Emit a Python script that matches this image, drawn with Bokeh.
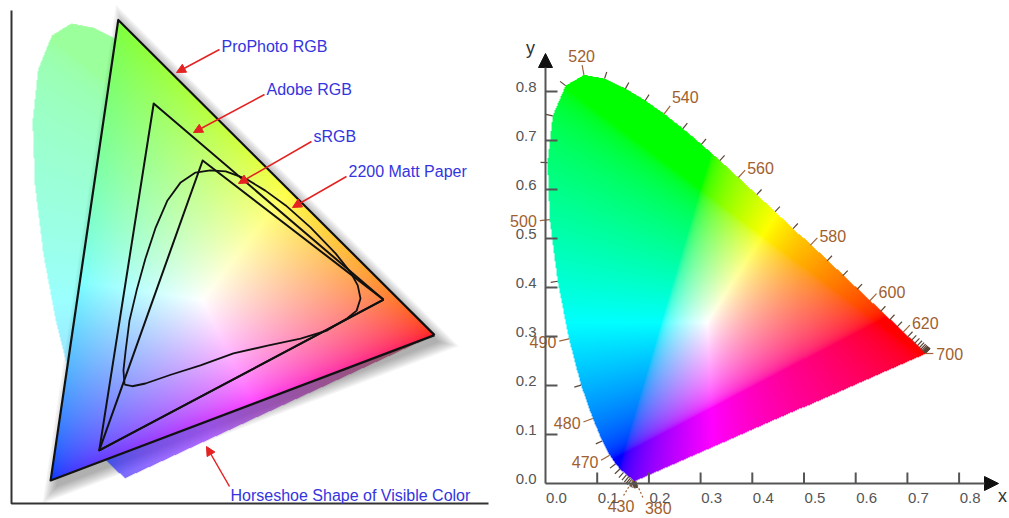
import numpy as np
from bokeh.plotting import figure
from bokeh.layouts import row
from bokeh.models import Arrow, NormalHead
from bokeh.core.properties import value
from bokeh.embed import file_html
from bokeh.resources import INLINE

# ---------------------------------------------------------------- data ---
# CIE 1931 2-degree spectral locus, 5 nm steps (380 ... 700 nm)
wavelengths = list(range(380, 705, 5))
locus_x = [0.1741, 0.1740, 0.1738, 0.1736, 0.1733, 0.1730, 0.1726, 0.1721,
           0.1714, 0.1703, 0.1689, 0.1669, 0.1644, 0.1611, 0.1566, 0.1510,
           0.1440, 0.1355, 0.1241, 0.1096, 0.0913, 0.0687, 0.0454, 0.0235,
           0.0082, 0.0039, 0.0139, 0.0389, 0.0743, 0.1142, 0.1547, 0.1929,
           0.2296, 0.2658, 0.3016, 0.3373, 0.3731, 0.4087, 0.4441, 0.4788,
           0.5125, 0.5448, 0.5752, 0.6029, 0.6270, 0.6482, 0.6658, 0.6801,
           0.6915, 0.7006, 0.7079, 0.7140, 0.7190, 0.7230, 0.7260, 0.7283,
           0.7300, 0.7311, 0.7320, 0.7327, 0.7334, 0.7340, 0.7344, 0.7346,
           0.7347]
locus_y = [0.0050, 0.0050, 0.0049, 0.0049, 0.0048, 0.0048, 0.0048, 0.0048,
           0.0051, 0.0058, 0.0069, 0.0086, 0.0109, 0.0138, 0.0177, 0.0227,
           0.0297, 0.0399, 0.0578, 0.0868, 0.1327, 0.2007, 0.2950, 0.4127,
           0.5384, 0.6548, 0.7502, 0.8120, 0.8338, 0.8262, 0.8059, 0.7816,
           0.7543, 0.7243, 0.6923, 0.6589, 0.6245, 0.5896, 0.5547, 0.5202,
           0.4866, 0.4544, 0.4242, 0.3965, 0.3725, 0.3514, 0.3340, 0.3197,
           0.3083, 0.2993, 0.2920, 0.2859, 0.2809, 0.2770, 0.2740, 0.2717,
           0.2700, 0.2689, 0.2680, 0.2673, 0.2666, 0.2660, 0.2656, 0.2654,
           0.2653]
labelled_nm = [380, 430, 470, 480, 490, 500, 520, 540, 560, 580, 600, 620, 700]

axis_values = [0.0, 0.1, 0.2, 0.3, 0.4, 0.5, 0.6, 0.7, 0.8]
axis_labels = ["0.0", "0.1", "0.2", "0.3", "0.4", "0.5", "0.6", "0.7", "0.8"]

# gamut outlines (red, green, blue primaries)
prophoto_x = [0.7347, 0.1596, 0.0366]
prophoto_y = [0.2653, 0.8404, 0.0001]
adobe_x = [0.642, 0.224, 0.125]
adobe_y = [0.330, 0.688, 0.055]
srgb_x = [0.642, 0.313, 0.125]
srgb_y = [0.330, 0.584, 0.055]
matt_x = [0.171, 0.169, 0.173, 0.180, 0.193, 0.209, 0.227, 0.249, 0.273,
          0.300, 0.327, 0.355, 0.391, 0.427, 0.464, 0.509, 0.555, 0.582,
          0.595, 0.600, 0.593, 0.576, 0.540, 0.491, 0.431, 0.369, 0.309,
          0.255, 0.209, 0.185]
matt_y = [0.175, 0.201, 0.237, 0.292, 0.347, 0.405, 0.460, 0.511, 0.544,
          0.562, 0.566, 0.564, 0.551, 0.529, 0.502, 0.462, 0.414, 0.380,
          0.356, 0.332, 0.310, 0.296, 0.274, 0.259, 0.246, 0.232, 0.210,
          0.193, 0.177, 0.172]
white_x, white_y = 0.3127, 0.3290

callout_texts = ["ProPhoto RGB", "Adobe RGB", "sRGB", "2200 Matt Paper",
                 "Horseshoe Shape of Visible Color"]

FONT = value("Liberation Sans")

# ------------------------------------------------------------ colour ---
M_SRGB = np.array([[3.2406, -1.5372, -0.4986],
                   [-0.9689, 1.8758, 0.0415],
                   [0.0557, -0.2040, 1.0570]])

# display tint of the wide-gamut primaries (linear light, columns R, G, B)
PRIMARY_TINT = np.array([[1.00, 0.25, 0.00],
                         [0.01, 1.00, 0.04],
                         [0.01, 0.04, 1.00]])
PRIMARY_TINT = PRIMARY_TINT / PRIMARY_TINT.sum(axis=1, keepdims=True)


def xyz_from_xy(x, y):
    y = np.maximum(y, 1e-3)
    return np.stack([x / y, np.ones_like(x), (1.0 - x - y) / y])


def rgb_matrix(px, py, wx, wy):
    P = np.array([[x / y, 1.0, (1 - x - y) / y] for x, y in zip(px, py)]).T
    W = np.array([wx / wy, 1.0, (1 - wx - wy) / wy])
    S = np.linalg.solve(P, W)
    return np.linalg.inv(P * S)


def encode(lin):
    lin = np.clip(lin, 0, None)
    lin = lin / np.maximum(lin.max(axis=0, keepdims=True), 1e-9)
    s = np.where(lin <= 0.0031308, 12.92 * lin,
                 1.055 * np.power(lin, 1 / 2.4) - 0.055)
    return np.clip(np.round(s * 255), 0, 255).astype(np.uint8)


def inside(px, py, vx, vy):
    res = np.zeros(px.shape, dtype=bool)
    n = len(vx)
    j = n - 1
    for i in range(n):
        xi, yi, xj, yj = vx[i], vy[i], vx[j], vy[j]
        if yi != yj:
            cross = (yi > py) != (yj > py)
            xint = (xj - xi) * (py - yi) / (yj - yi) + xi
            res ^= cross & (px < xint)
        j = i
    return res


def grid(x0, x1, y0, y1, nx, ny):
    xs = x0 + (np.arange(nx) + 0.5) * (x1 - x0) / nx
    ys = y0 + (np.arange(ny) + 0.5) * (y1 - y0) / ny
    return np.meshgrid(xs, ys)


def pack(rgb, alpha):
    ny, nx = alpha.shape
    img = np.zeros((ny, nx), dtype=np.uint32)
    v = img.view(dtype=np.uint8).reshape((ny, nx, 4))
    v[..., 0], v[..., 1], v[..., 2] = rgb[0], rgb[1], rgb[2]
    v[..., 3] = alpha
    return img


def bare_figure(w, h, xr, yr):
    f = figure(width=w, height=h, x_range=xr, y_range=yr, min_border=0,
               title=None, toolbar_location=None, output_backend="svg",
               x_axis_location=None, y_axis_location=None)
    f.outline_line_color = None
    f.grid.visible = False
    return f


# ------------------------------------------------------- left panel ---
L_X0, L_SX, L_Y0, L_SY = 30, 550, 480, 548


def lx(px):
    return (px - L_X0) / L_SX


def ly(py):
    return (L_Y0 - py) / L_SY


left = bare_figure(500, 518, (lx(0), lx(500)), (ly(518), ly(0)))

# drop shadow of the ProPhoto triangle
P = np.array([[x * L_SX, y * L_SY] for x, y in zip(prophoto_x, prophoto_y)])
A, B, C = P
a, b, c = np.linalg.norm(B - C), np.linalg.norm(A - C), np.linalg.norm(A - B)
inc = (a * A + b * B + c * C) / (a + b + c)
area = abs((B - A)[0] * (C - A)[1] - (B - A)[1] * (C - A)[0]) / 2
r_in = area / ((a + b + c) / 2)
shadow_shift = np.array([5.0, -7.0])
for d in [0, 1.5, 3, 4.5, 6, 7.5, 9, 10.5]:
    Q = inc + (P - inc) * (r_in + d) / r_in + shadow_shift
    left.patch(Q[:, 0] / L_SX, Q[:, 1] / L_SY, fill_color="black",
               fill_alpha=0.045, line_color=None)

# horseshoe (pale) and ProPhoto triangle (vivid)
gx0, gx1, gy0, gy1 = 0.0, 0.76, -0.005, 0.86
gnx, gny = int((gx1 - gx0) * L_SX), int((gy1 - gy0) * L_SY)
GX, GY = grid(gx0, gx1, gy0, gy1, gnx, gny)
XYZ = xyz_from_xy(GX, GY)
M_PP = PRIMARY_TINT @ rgb_matrix(prophoto_x, prophoto_y, white_x, white_y)
rgb_tri = encode(np.tensordot(M_PP, XYZ, axes=1))
rgb_shoe = encode(np.tensordot(M_SRGB, XYZ, axes=1))
in_locus = inside(GX, GY, locus_x, locus_y)
in_tri = inside(GX, GY, prophoto_x, prophoto_y)
# side of the blue-red edge: the violet tail below the triangle is denser
bx, by, rx_, ry_ = prophoto_x[2], prophoto_y[2], prophoto_x[0], prophoto_y[0]
below = (rx_ - bx) * (GY - by) - (ry_ - by) * (GX - bx) < 0
tail = np.stack([rgb_shoe[0] * 0.55, rgb_shoe[1] * 0.6 + 35, rgb_shoe[2]])
rgb_shoe = np.where(below[None], tail, rgb_shoe).astype(np.uint8)
rgb_left = np.where(in_tri[None], rgb_tri, rgb_shoe)
alpha_left = np.where(in_tri, 255,
                      np.where(in_locus, np.where(below, 170, 100), 0)).astype(np.uint8)
left.image_rgba(image=[pack(rgb_left, alpha_left)], x=gx0, y=gy0,
                dw=gx1 - gx0, dh=gy1 - gy0)

# gamut outlines
for gx, gy, w in [(prophoto_x, prophoto_y, 2.2), (adobe_x, adobe_y, 2.0),
                  (srgb_x, srgb_y, 2.0), (matt_x, matt_y, 1.8)]:
    left.line(list(gx) + [gx[0]], list(gy) + [gy[0]], line_color="#111111",
              line_width=w, line_join="round")

# frame lines
left.line([lx(11), lx(11), lx(488)], [ly(10), ly(503), ly(503)],
          line_color="#333333", line_width=2)

# call-outs
callout_text_px = [(221, 46), (266, 89), (313, 136), (348, 171), (230, 495)]
callout_arrow_px = [((219, 49), (176, 72)), ((264, 94), (193, 132)),
                    ((311, 141), (238, 183)), ((346, 176), (292, 207)),
                    ((229, 486), (206, 446))]
left.text(x=[lx(p[0]) for p in callout_text_px],
          y=[ly(p[1]) for p in callout_text_px], text=callout_texts,
          text_font=FONT, text_font_size="16px", text_color="#3434e0",
          text_align="left", text_baseline="middle")
for (s, e) in callout_arrow_px:
    left.add_layout(Arrow(end=NormalHead(size=9, fill_color="#e42222",
                                         line_color="#e42222"),
                          x_start=lx(s[0]), y_start=ly(s[1]),
                          x_end=lx(e[0]), y_end=ly(e[1]),
                          line_color="#e42222", line_width=1.5))

# ------------------------------------------------------ right panel ---
R_X0, R_SX, R_Y0, R_SY = 45, 517, 483, 490


def rx(px):
    return (px - R_X0) / R_SX


def ry(py):
    return (R_Y0 - py) / R_SY


right = bare_figure(509, 518, (rx(0), rx(509)), (ry(518), ry(0)))

hx0, hx1, hy0, hy1 = 0.0, 0.75, 0.0, 0.85
hnx, hny = int((hx1 - hx0) * R_SX), int((hy1 - hy0) * R_SY)
HX, HY = grid(hx0, hx1, hy0, hy1, hnx, hny)
rgb_right = encode(np.tensordot(M_SRGB, xyz_from_xy(HX, HY), axes=1))
alpha_right = np.where(inside(HX, HY, locus_x, locus_y), 255, 0).astype(np.uint8)
right.image_rgba(image=[pack(rgb_right, alpha_right)], x=hx0, y=hy0,
                 dw=hx1 - hx0, dh=hy1 - hy0)

# wavelength ticks along the locus (outward normals in screen space)
lxa, lya = np.array(locus_x), np.array(locus_y)
tx, ty = np.gradient(lxa * R_SX), np.gradient(-lya * R_SY)
tn = np.hypot(tx, ty) + 1e-12
nxs, nys = ty / tn, -tx / tn

special = {430: dict(d=(-0.6, 1.0), length=20, align="center", base="top", dash=True),
           380: dict(d=(0.45, 1.0), length=20, align="left", base="top", dash=True),
           700: dict(d=(1.0, 0.0), length=8, align="left", base="middle", dash=False)}

tick_x0, tick_y0, tick_x1, tick_y1 = [], [], [], []
lead = {False: ([], [], [], []), True: ([], [], [], [])}
labels = {}
for i, nm in enumerate(wavelengths):
    x0, y0 = locus_x[i], locus_y[i]
    if nm in labelled_nm:
        sp = special.get(nm)
        if sp:
            dx, dy = sp["d"]
            n = np.hypot(dx, dy)
            dx, dy = dx / n, dy / n
            L, align, base, dash = sp["length"], sp["align"], sp["base"], sp["dash"]
        else:
            dx, dy = nxs[i], nys[i]
            L, dash = 10, False
            align = "left" if dx > 0.35 else ("right" if dx < -0.35 else "center")
            base = "bottom" if dy < -0.75 else ("top" if dy > 0.75 else "middle")
        ex, ey = x0 + dx * L / R_SX, y0 - dy * L / R_SY
        lst = lead[dash]
        lst[0].append(x0); lst[1].append(y0); lst[2].append(ex); lst[3].append(ey)
        labels.setdefault((align, base), ([], [], []))
        tx_, ty_ = ex + dx * 3 / R_SX, ey - dy * 3 / R_SY
        labels[(align, base)][0].append(tx_)
        labels[(align, base)][1].append(ty_)
        labels[(align, base)][2].append(str(nm))
    else:
        tick_x0.append(x0); tick_y0.append(y0)
        tick_x1.append(x0 + nxs[i] * 7 / R_SX)
        tick_y1.append(y0 - nys[i] * 7 / R_SY)

right.segment(tick_x0, tick_y0, tick_x1, tick_y1, line_color="#5a4636",
              line_width=1.2)
for dash, (a0, b0, a1, b1) in lead.items():
    right.segment(a0, b0, a1, b1, line_color="#a0643a", line_width=1.2,
                  line_dash="2 2" if dash else "solid")
for (align, base), (xs, ys, ts) in labels.items():
    right.text(x=xs, y=ys, text=ts, text_font=FONT, text_font_size="16px",
               text_color="#a0602e", text_align=align, text_baseline=base)

# axes with arrow heads
X_END, Y_END = rx(498), ry(53)
for xe, ye in [(X_END, 0.0), (0.0, Y_END)]:
    right.add_layout(Arrow(end=NormalHead(size=14, fill_color="#111111",
                                          line_color="#111111"),
                           x_start=0.0, y_start=0.0, x_end=xe, y_end=ye,
                           line_color="#555555", line_width=2))
ticks = [v for v in axis_values if v > 0]
right.segment(ticks, [0.0] * len(ticks), ticks, [11 / R_SY] * len(ticks),
              line_color="#555555", line_width=2)
right.segment([0.0] * len(ticks), ticks, [12 / R_SX] * len(ticks), ticks,
              line_color="#555555", line_width=2)
right.text(x=axis_values, y=[0.0] * len(axis_values), text=axis_labels,
           text_font=FONT, text_font_size="15px", text_color="#555555",
           text_align="center", text_baseline="middle", x_offset=11, y_offset=14)
right.text(x=[0.0] * len(axis_values), y=axis_values, text=axis_labels,
           text_font=FONT, text_font_size="15px", text_color="#555555",
           text_align="right", text_baseline="middle", x_offset=-9, y_offset=-5)
right.text(x=[rx(502)], y=[ry(495)], text=["x"], text_font=FONT,
           text_font_size="18px", text_color="#333333", text_align="center",
           text_baseline="middle")
right.text(x=[rx(30)], y=[ry(47)], text=["y"], text_font=FONT,
           text_font_size="18px", text_color="#333333", text_align="center",
           text_baseline="middle")

layout = row(left, right)
open("out.html", "w").write(file_html(layout, INLINE))
